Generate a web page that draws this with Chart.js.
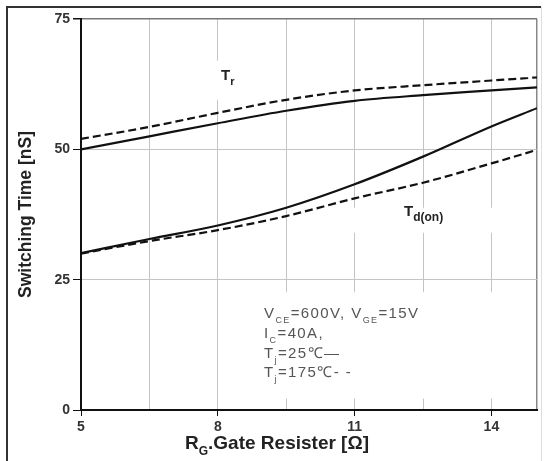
<!DOCTYPE html>
<html>
<head>
<meta charset="utf-8">
<script src="https://cdn.jsdelivr.net/npm/chart.js@4.4.1/dist/chart.umd.min.js"></script>
<style>
  html, body { margin: 0; padding: 0; background: #fff; }
  #chart { display: block; }
</style>
</head>
<body>
<canvas id="chart" width="545" height="461"></canvas>
<script>
// gate resistance (ohm) sample points
const rgValues = [5, 6.5, 8, 9.5, 11, 12.5, 14, 15];
// rise time Tr
const trAt25 = [50.0, 52.5, 55.0, 57.4, 59.3, 60.4, 61.3, 61.9];
const trAt175 = [52.0, 54.3, 57.0, 59.5, 61.3, 62.3, 63.2, 63.8];
// turn-on delay Td(on)
const tdAt25 = [30.1, 32.8, 35.4, 38.8, 43.3, 48.6, 54.4, 57.9];
const tdAt175 = [30.0, 32.4, 34.5, 37.2, 40.6, 43.6, 47.3, 49.9];

const xGridValues = [5, 6.5, 8, 9.5, 11, 12.5, 14, 15];
const xTickLabels = [5, 8, 11, 14];
const yTickValues = [0, 25, 50, 75];

const FONT = '"Liberation Sans", Arial, sans-serif';

const toPoints = ys => rgValues.map((x, i) => ({ x: x, y: ys[i] }));

function curve(label, ys, dashed) {
  return {
    label: label,
    data: toPoints(ys),
    borderColor: '#111',
    borderWidth: 2.2,
    borderDash: dashed ? [8, 4] : [],
    pointRadius: 0,
    fill: false,
    cubicInterpolationMode: 'monotone'
  };
}

// draws text pieces, some as subscripts
function richText(ctx, x, y, parts, size, sub, weight) {
  let cx = x;
  parts.forEach(p => {
    const s = p.sub ? sub : size;
    ctx.font = weight + ' ' + s + 'px ' + FONT;
    ctx.fillText(p.t, cx, p.sub ? y + size * 0.3 : y);
    cx += ctx.measureText(p.t).width;
  });
  return cx - x;
}

function richWidth(ctx, parts, size, sub, weight) {
  let w = 0;
  parts.forEach(p => {
    ctx.font = weight + ' ' + (p.sub ? sub : size) + 'px ' + FONT;
    w += ctx.measureText(p.t).width;
  });
  return w;
}

const decor = {
  id: 'decor',
  beforeDraw(chart) {
    const ctx = chart.ctx;
    ctx.save();
    ctx.fillStyle = '#fff';
    ctx.fillRect(0, 0, chart.width, chart.height);
    // outer frame
    ctx.strokeStyle = '#333';
    ctx.lineWidth = 2;
    ctx.beginPath();
    ctx.moveTo(7, chart.height);
    ctx.lineTo(7, 7);
    ctx.lineTo(541, 7);
    ctx.stroke();
    ctx.strokeStyle = '#ddd';
    ctx.lineWidth = 1;
    ctx.beginPath();
    ctx.moveTo(541.5, 7);
    ctx.lineTo(541.5, chart.height);
    ctx.stroke();
    ctx.restore();
  },
  beforeDatasetsDraw(chart) {
    const ctx = chart.ctx;
    const x = chart.scales.x, y = chart.scales.y;
    const box = (x0, x1, y0, y1) => {
      const l = x.getPixelForValue(x0), r = x.getPixelForValue(x1);
      const t = y.getPixelForValue(y1), b = y.getPixelForValue(y0);
      ctx.fillRect(l, t, r - l, b - t);
    };
    ctx.save();
    ctx.fillStyle = '#fff';
    box(7.6, 8.7, 59.5, 67);
    box(9.2, 14.95, 2.2, 22.6);
    box(10.4, 14.95, 34, 38.8);
    ctx.restore();
  },
  afterDatasetsDraw(chart) {
    const ctx = chart.ctx;
    ctx.save();
    ctx.textBaseline = 'alphabetic';
    ctx.textAlign = 'left';
    ctx.fillStyle = '#222';
    richText(ctx, 221, 80, [{ t: 'T' }, { t: 'r', sub: true }], 15, 11, 'bold');
    richText(ctx, 404, 216, [{ t: 'T' }, { t: 'd(on)', sub: true }], 15, 12, 'bold');

    // test conditions
    ctx.fillStyle = '#555';
    ctx.letterSpacing = '1.4px';
    const lines = [
      [{ t: 'V' }, { t: 'CE', sub: true }, { t: '=600V, V' }, { t: 'GE', sub: true }, { t: '=15V' }],
      [{ t: 'I' }, { t: 'C', sub: true }, { t: '=40A,' }],
      [{ t: 'T' }, { t: 'j', sub: true }, { t: '=25℃—' }],
      [{ t: 'T' }, { t: 'j', sub: true }, { t: '=175℃- -' }]
    ];
    const baselines = [318, 338, 358, 377];
    lines.forEach((parts, i) => richText(ctx, 264, baselines[i], parts, 15, 9, 'normal'));
    ctx.letterSpacing = '0px';

    // x axis title with subscript
    ctx.fillStyle = '#222';
    const title = [{ t: 'R' }, { t: 'G', sub: true }, { t: '.Gate Resister [Ω]' }];
    const w = richWidth(ctx, title, 19, 12, 'bold');
    richText(ctx, 277 - w / 2, 449, title, 19, 12, 'bold');
    ctx.restore();
  }
};

new Chart(document.getElementById('chart'), {
  type: 'line',
  data: {
    datasets: [
      curve('Tr 25C', trAt25, false),
      curve('Tr 175C', trAt175, true),
      curve('Td(on) 25C', tdAt25, false),
      curve('Td(on) 175C', tdAt175, true)
    ]
  },
  options: {
    responsive: false,
    animation: false,
    devicePixelRatio: 1,
    layout: { padding: { left: 0, right: 8, top: 19, bottom: 0 } },
    plugins: { legend: { display: false }, tooltip: { enabled: false } },
    scales: {
      x: {
        type: 'linear',
        min: 5,
        max: 15,
        afterBuildTicks: s => { s.ticks = xGridValues.map(v => ({ value: v })); },
        afterFit: s => { s.height = 51; },
        ticks: {
          autoSkip: false,
          maxRotation: 0,
          padding: 3,
          color: '#333',
          font: { family: FONT, size: 14, weight: 'bold' },
          callback: v => xTickLabels.includes(v) ? String(v) : ''
        },
        grid: {
          color: c => c.tick && c.tick.value === 15 ? '#888' : '#c4c4c4',
          tickColor: c => c.tick && xTickLabels.includes(c.tick.value) ? '#111' : 'rgba(0,0,0,0)',
          tickLength: 6,
          lineWidth: c => c.tick && c.tick.value === 15 ? 1.5 : 1
        },
        border: { color: '#111', width: 2 }
      },
      y: {
        min: 0,
        max: 75,
        afterBuildTicks: s => { s.ticks = yTickValues.map(v => ({ value: v })); },
        afterFit: s => { s.width = 81; },
        ticks: {
          padding: 3,
          color: '#333',
          font: { family: FONT, size: 14, weight: 'bold' }
        },
        grid: {
          color: c => c.tick && c.tick.value === 75 ? '#777' : '#c4c4c4',
          tickColor: '#111',
          tickLength: 8,
          lineWidth: c => c.tick && c.tick.value === 75 ? 1.5 : 1
        },
        border: { color: '#111', width: 2 },
        title: {
          display: true,
          text: 'Switching Time [nS]',
          color: '#222',
          font: { family: FONT, size: 17.5, weight: 'bold' },
          padding: { top: 16, bottom: 0 }
        }
      }
    }
  },
  plugins: [decor]
});
</script>
</body>
</html>
